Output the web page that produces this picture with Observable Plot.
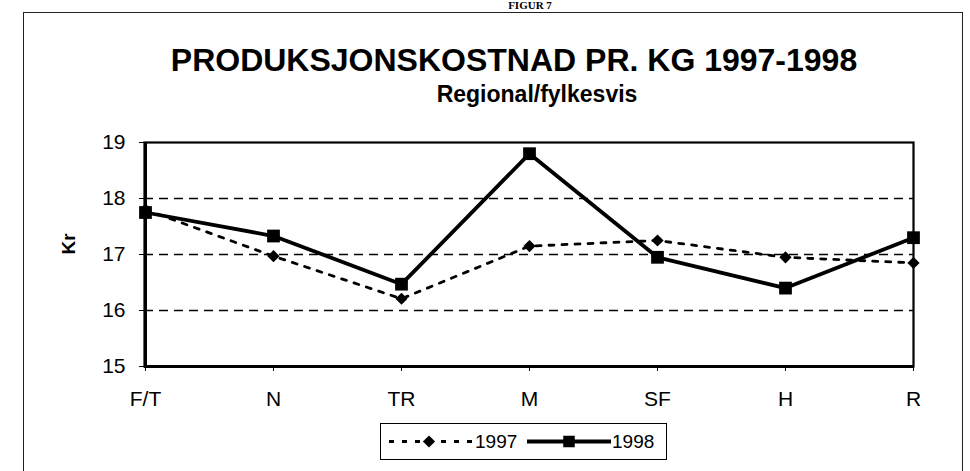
<!DOCTYPE html>
<html>
<head>
<meta charset="utf-8">
<script src="https://cdn.jsdelivr.net/npm/d3@7"></script>
<script src="https://cdn.jsdelivr.net/npm/@observablehq/plot@0.6"></script>
<style>
  body { margin: 0; background: #fff; }
  #wrap { position: relative; width: 970px; height: 471px; overflow: hidden; background: #fff;
          font-family: "Liberation Sans", Arial, sans-serif; color: #000; }
  #figur { position: absolute; left: 530px; top: 0px; transform: translateX(-50%);
           font-family: "Liberation Serif", "Times New Roman", serif; font-weight: bold; font-size: 11px; line-height: 1; }
  #frame { position: absolute; left: 23px; top: 12px; width: 940px; height: 480px;
           border: 1.5px solid #222; box-sizing: border-box; }
  #title { position: absolute; left: 514px; top: 44px; transform: translateX(-50%); white-space: nowrap;
           font-weight: bold; font-size: 32px; line-height: 1; }
  #subtitle { position: absolute; left: 537px; top: 83px; transform: translateX(-50%); white-space: nowrap;
           font-weight: bold; font-size: 23px; line-height: 1; }
  #chart { position: absolute; left: 0; top: 0; }
  #legend { position: absolute; left: 380px; top: 423px; width: 287px; height: 37px;
            border: 1.2px solid #000; box-sizing: border-box; background: #fff; }
</style>
</head>
<body>
<div id="wrap">
  <div id="figur">FIGUR 7</div>
  <div id="frame"></div>
  <div id="title">PRODUKSJONSKOSTNAD PR. KG 1997-1998</div>
  <div id="subtitle">Regional/fylkesvis</div>
  <div id="chart"></div>
  <div id="legend"></div>
</div>
<script>
// ---- data ----
const regions = ["F/T", "N", "TR", "M", "SF", "H", "R"];
const cost1997 = [17.8, 16.97, 16.21, 17.15, 17.25, 16.95, 16.85];
const cost1998 = [17.75, 17.33, 16.47, 18.8, 16.95, 16.4, 17.3];
const seriesNames = ["1997", "1998"];
const yTicks = [15, 16, 17, 18, 19];
const gridLines = [16, 17, 18];
const yLabel = "Kr";

const d97 = regions.map((r, i) => ({region: r, value: cost1997[i]}));
const d98 = regions.map((r, i) => ({region: r, value: cost1998[i]}));

const chart = Plot.plot({
  width: 970,
  height: 471,
  marginLeft: 144,
  marginRight: 57,
  marginTop: 142,
  marginBottom: 105,
  style: {background: "none", fontFamily: "Liberation Sans, Arial, sans-serif", fontSize: "21px", color: "#000", overflow: "visible"},
  x: {type: "point", domain: regions, padding: 0},
  y: {domain: [15, 19]},
  marks: [
    Plot.ruleY(gridLines, {stroke: "#000", strokeWidth: 1.6, strokeDasharray: "9,6"}),
    Plot.frame({stroke: "#000", strokeWidth: 2.2}),
    Plot.ruleY([15], {stroke: "#000", strokeWidth: 3}),
    Plot.ruleX([regions[0]], {stroke: "#000", strokeWidth: 3}),
    Plot.axisY({ticks: yTicks, tickSize: 5, tickPadding: 14, fontSize: 21, label: null, tickFormat: d => String(d)}),
    Plot.axisX({tickSize: 5, tickPadding: 20, fontSize: 21, label: null}),
    Plot.text([yLabel], {frameAnchor: "left", dx: -76, rotate: -90, fontWeight: "bold", fontSize: 19}),
    Plot.line(d97, {x: "region", y: "value", stroke: "#000", strokeWidth: 2.8, strokeDasharray: "5,8"}),
    Plot.dot(d97, {x: "region", y: "value", symbol: "diamond2", r: 5.5, fill: "#000", stroke: "none"}),
    Plot.line(d98, {x: "region", y: "value", stroke: "#000", strokeWidth: 3.8}),
    Plot.dot(d98, {x: "region", y: "value", symbol: "square", r: 7.2, fill: "#000", stroke: "none"})
  ]
});
document.getElementById("chart").appendChild(chart);

// ---- legend ----
const leg = d3.select("#legend").append("svg").attr("width", 285).attr("height", 35)
  .style("display", "block").style("font-family", "Liberation Sans, Arial, sans-serif");
const cy = 17.5;
leg.append("line").attr("x1", 8).attr("x2", 93).attr("y1", cy).attr("y2", cy)
  .attr("stroke", "#000").attr("stroke-width", 2.8).attr("stroke-dasharray", "5,8");
leg.append("path").attr("d", d3.symbol(d3.symbolDiamond2, Math.PI * 5.5 * 5.5)())
  .attr("transform", `translate(48,${cy})`).attr("fill", "#000");
leg.append("text").attr("x", 94).attr("y", cy).attr("dy", "0.35em").attr("font-size", 19).text(seriesNames[0]);
leg.append("line").attr("x1", 146).attr("x2", 230).attr("y1", cy).attr("y2", cy)
  .attr("stroke", "#000").attr("stroke-width", 3.8);
leg.append("path").attr("d", d3.symbol(d3.symbolSquare, Math.PI * 6.5 * 6.5)())
  .attr("transform", `translate(188,${cy})`).attr("fill", "#000");
leg.append("text").attr("x", 231).attr("y", cy).attr("dy", "0.35em").attr("font-size", 19).text(seriesNames[1]);
</script>
</body>
</html>
